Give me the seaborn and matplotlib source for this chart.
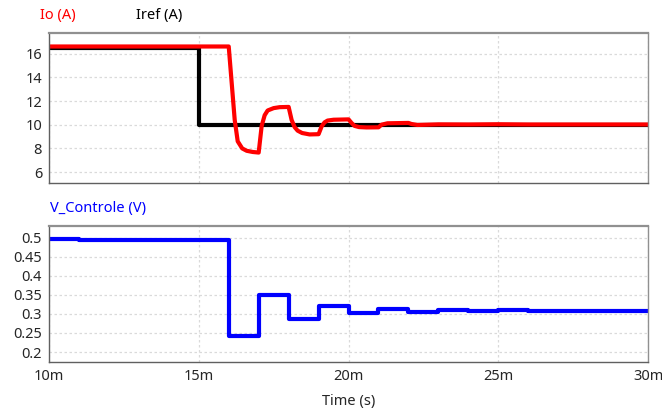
import numpy as np
import pandas as pd
import matplotlib
matplotlib.use('Agg')
import matplotlib.pyplot as plt
import seaborn as sns

sns.set_style('white')
plt.rcParams['font.family'] = ['Noto Sans', 'DejaVu Sans']

# time in ms
t_iref = [10, 15, 30]
iref = [16.5, 10.0, 10.0]

t_io = [10, 16.0, 16.1, 16.2, 16.3, 16.45, 16.6, 16.8, 17.0, 17.1, 17.2, 17.3, 17.5, 17.7, 18.0,
        18.1, 18.2, 18.3, 18.45, 18.7, 19.0, 19.1, 19.2, 19.3, 19.5, 20.0, 20.1, 20.2, 20.35, 20.6,
        21.0, 21.1, 21.3, 22.0, 22.1, 22.3, 23.0, 24.0, 25.0, 26.0, 30.0]
io = [16.6, 16.6, 13.5, 10.4, 8.6, 8.0, 7.8, 7.7, 7.65, 9.9, 10.8, 11.2, 11.4, 11.48, 11.5,
      10.4, 9.8, 9.5, 9.3, 9.18, 9.2, 9.85, 10.2, 10.35, 10.42, 10.45, 10.15, 9.9, 9.8, 9.77,
      9.78, 10.0, 10.12, 10.15, 10.06, 9.98, 10.03, 10.02, 10.04, 10.02, 10.02]

t_v = [10, 11, 16, 17, 18, 19, 20, 21, 22, 23, 24, 25, 26, 30]
v_ctrl = [0.498, 0.494, 0.243, 0.351, 0.287, 0.322, 0.302, 0.312, 0.306, 0.310, 0.308, 0.310, 0.308, 0.308]

df_i = pd.DataFrame({'t': t_iref, 'Iref': iref})
df_o = pd.DataFrame({'t': t_io, 'Io': io})
df_v = pd.DataFrame({'t': t_v, 'V': v_ctrl})

fig = plt.figure(figsize=(6.62, 4.08), dpi=100)
ax1 = fig.add_axes([0.074, 0.552, 0.905, 0.366])
ax2 = fig.add_axes([0.074, 0.112, 0.905, 0.333])

sns.lineplot(data=df_i, x='t', y='Iref', ax=ax1, color='black', lw=3, drawstyle='steps-post')
sns.lineplot(data=df_o, x='t', y='Io', ax=ax1, color='#ff0000', lw=3)
sns.lineplot(data=df_v, x='t', y='V', ax=ax2, color='#0000ff', lw=3, drawstyle='steps-post')

ax1.set_ylim(5.1, 17.7)
ax1.set_yticks([6, 8, 10, 12, 14, 16])
ax2.set_ylim(0.173, 0.53)
ax2.set_yticks([0.2, 0.25, 0.3, 0.35, 0.4, 0.45, 0.5])
ax2.set_yticklabels(['0.2', '0.25', '0.3', '0.35', '0.4', '0.45', '0.5'])

for ax in (ax1, ax2):
    ax.set_xlim(10, 30)
    ax.set_xticks([10, 15, 20, 25, 30])
    ax.grid(True, color='#dadada', ls=(0, (2, 2)), lw=0.9)
    ax.set_ylabel('')
    ax.set_xlabel('')
    ax.tick_params(length=0, labelsize=10.5, pad=5)
    for s in ax.spines.values():
        s.set_color('#606060')
        s.set_linewidth(1.0)
    ax.spines['top'].set_color('#909090')
    ax.spines['top'].set_linewidth(1.6)
    ax.spines['right'].set_color('#909090')

ax1.set_xticklabels([])
ax2.set_xticklabels(['10m', '15m', '20m', '25m', '30m'])
ax2.set_xlabel('Time (s)', fontsize=10.5, labelpad=7)

fig.text(40 / 662, 1 - 16 / 408, 'Io (A)', color='#ff0000', fontsize=10.5, va='center')
fig.text(136 / 662, 1 - 16 / 408, 'Iref (A)', color='black', fontsize=10.5, va='center')
fig.text(50 / 662, 1 - 209 / 408, 'V_Controle (V)', color='#0000ff', fontsize=10.5, va='center')

fig.savefig('out.png', dpi=100)
